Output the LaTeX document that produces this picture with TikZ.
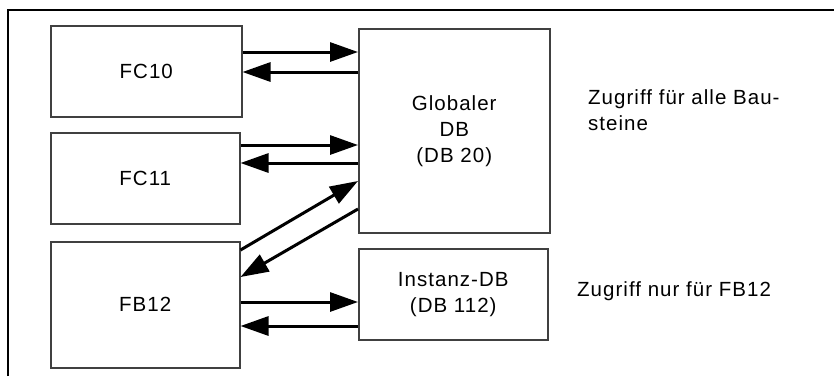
\documentclass[tikz,border=0pt]{standalone}
\usepackage{fontspec}
\setmainfont{Liberation Sans}[LetterSpace=5]
\usetikzlibrary{arrows.meta}

\tikzset{
  block/.style={draw=black!75, line width=1.5pt, fill=white, align=center,
    anchor=north west, inner sep=0pt},
  flow/.style={line width=3pt, -{Triangle[length=28pt,width=19pt]}},
  note/.style={anchor=north west, inner sep=0pt, align=left}
}

\begin{document}
\begin{tikzpicture}[x=1pt, y=-1pt, font=\fontsize{20.5}{26}\selectfont]
\useasboundingbox (0,0) rectangle (834,376);
\fill[white] (0,0) rectangle (834,376);
% outer frame (open to the right and bottom)
\draw[line width=2pt] (8,376) -- (8,10) -- (834,10);

% blocks
\node[block, minimum width=191pt, minimum height=91pt] (fc10) at (50,25) {FC10};
\node[block, minimum width=189pt, minimum height=91pt] (fc11) at (50,132) {FC11};
\node[block, minimum width=189pt, minimum height=126pt] (fb12) at (50,241) {FB12};
\node[block, minimum width=191pt, minimum height=204pt] (gdb) at (358,28) {Globaler\\DB\\(DB 20)};
\node[block, minimum width=189pt, minimum height=91pt] (idb) at (358,248) {Instanz-DB\\(DB 112)};

% notes
\node[note] (n1) at (588,89) {Zugriff für alle Bau-\\steine};
\node[note] (n2) at (577,281) {Zugriff nur für FB12};

% accesses
\draw[flow] (fc10.east |- 0,52) -- (gdb.west |- 0,52);
\draw[flow] (gdb.west |- 0,72) -- (fc10.east |- 0,72);
\draw[flow] (fc11.east |- 0,145) -- (gdb.west |- 0,145);
\draw[flow] (gdb.west |- 0,163) -- (fc11.east |- 0,163);
\draw[flow] (fb12.east |- 0,250) -- (gdb.west |- 0,181);
\draw[flow] (gdb.west |- 0,209) -- (fb12.east |- 0,277);
\draw[flow] (fb12.east |- 0,302) -- (idb.west |- 0,302);
\draw[flow] (idb.west |- 0,326) -- (fb12.east |- 0,326);
\end{tikzpicture}
\end{document}
